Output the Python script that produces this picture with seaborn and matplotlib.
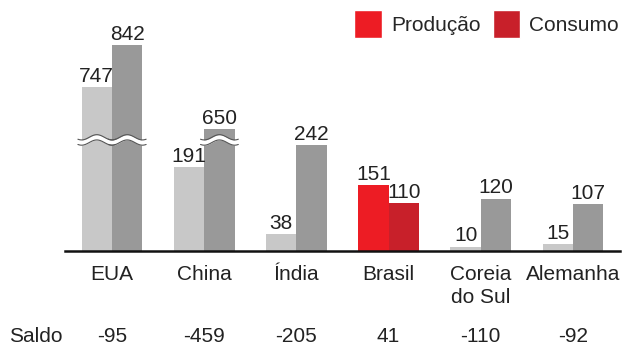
import numpy as np
import pandas as pd
import matplotlib
matplotlib.use("Agg")
import matplotlib.pyplot as plt
from matplotlib.patches import Patch
import seaborn as sns

paises = ["EUA", "China", "Índia", "Brasil", "Coreia\ndo Sul", "Alemanha"]
producao = [747, 191, 38, 151, 10, 15]
consumo = [842, 650, 242, 110, 120, 107]
saldo = [-95, -459, -205, 41, -110, -92]
series = ["Produção", "Consumo"]

# broken-axis settings (values above the threshold are shifted down)
limiar = 300
desconto = 372
corte = 254

sns.set_theme(style="white")
plt.rcParams["font.family"] = ["Liberation Sans", "DejaVu Sans"]

rows = []
for p, a, b in zip(paises, producao, consumo):
    rows.append({"pais": p, "serie": series[0], "valor": a})
    rows.append({"pais": p, "serie": series[1], "valor": b})
df = pd.DataFrame(rows)
df["exibido"] = np.where(df["valor"] > limiar, df["valor"] - desconto, df["valor"])

fig = plt.figure(figsize=(6.22, 3.49), dpi=100)
ax = fig.add_axes([65 / 622, 1 - 251 / 349, (620 - 65) / 622, 251 / 349])

cinza_claro = "#c8c8c8"
cinza_escuro = "#999999"
sns.barplot(data=df, x="pais", y="exibido", hue="serie", order=paises,
            hue_order=series, palette=[cinza_claro, cinza_escuro],
            width=0.66, saturation=1, legend=False, ax=ax, linewidth=0)

vermelhos = ["#ed1c24", "#c8202a"]
idx_brasil = paises.index("Brasil")
fs = 15
for h, cont in enumerate(ax.containers):
    vals = producao if h == 0 else consumo
    for i, bar in enumerate(cont):
        if i == idx_brasil:
            bar.set_facecolor(vermelhos[h])
        x = bar.get_x() + bar.get_width() / 2
        ax.text(x, bar.get_height() + 3, str(vals[i]), ha="center", va="bottom",
                fontsize=fs, color="#222222")
        if vals[i] > limiar:
            x0 = bar.get_x() - 0.04
            x1 = bar.get_x() + bar.get_width() + 0.04
            xs = np.linspace(x0, x1, 80)
            per = bar.get_width()
            ys = corte - 6 * np.cos(2 * np.pi * (xs - bar.get_x()) / per)
            ax.fill_between(xs, ys - 6, ys + 6, color="white", zorder=5, lw=0)
            ax.plot(xs, ys - 6, color="#555555", lw=0.8, zorder=6)
            ax.plot(xs, ys + 6, color="#555555", lw=0.8, zorder=6)

ax.set_xlim(-0.51, 5.51)
ax.set_ylim(0, 574)
ax.set_yticks([])
ax.set_xlabel("")
ax.set_ylabel("")
for s in ["top", "right", "left"]:
    ax.spines[s].set_visible(False)
ax.spines["bottom"].set_color("#111111")
ax.spines["bottom"].set_linewidth(1.8)
ax.tick_params(axis="x", length=0, pad=10, labelsize=fs, labelcolor="#222222")
for lab in ax.get_xticklabels():
    lab.set_linespacing(1.3)

# Saldo row
fig.text(36 / 622, 1 - 336 / 349, "Saldo", ha="center", va="center",
         fontsize=fs, color="#222222")
for i, s in enumerate(saldo):
    xf = fig.transFigure.inverted().transform(ax.transData.transform((i, 0)))[0]
    fig.text(xf, 1 - 336 / 349, str(s), ha="center", va="center",
             fontsize=fs, color="#222222")

handles = [Patch(facecolor=vermelhos[0]), Patch(facecolor=vermelhos[1])]
ax.legend(handles, series, ncol=2, frameon=False, loc="upper right",
          bbox_to_anchor=((619 - 65) / 555, 1 - 10 / 251), fontsize=fs,
          handlelength=1.3, handleheight=1.7, handletextpad=0.45,
          columnspacing=0.6, borderaxespad=0, borderpad=0)

fig.savefig("out.png", dpi=100)
